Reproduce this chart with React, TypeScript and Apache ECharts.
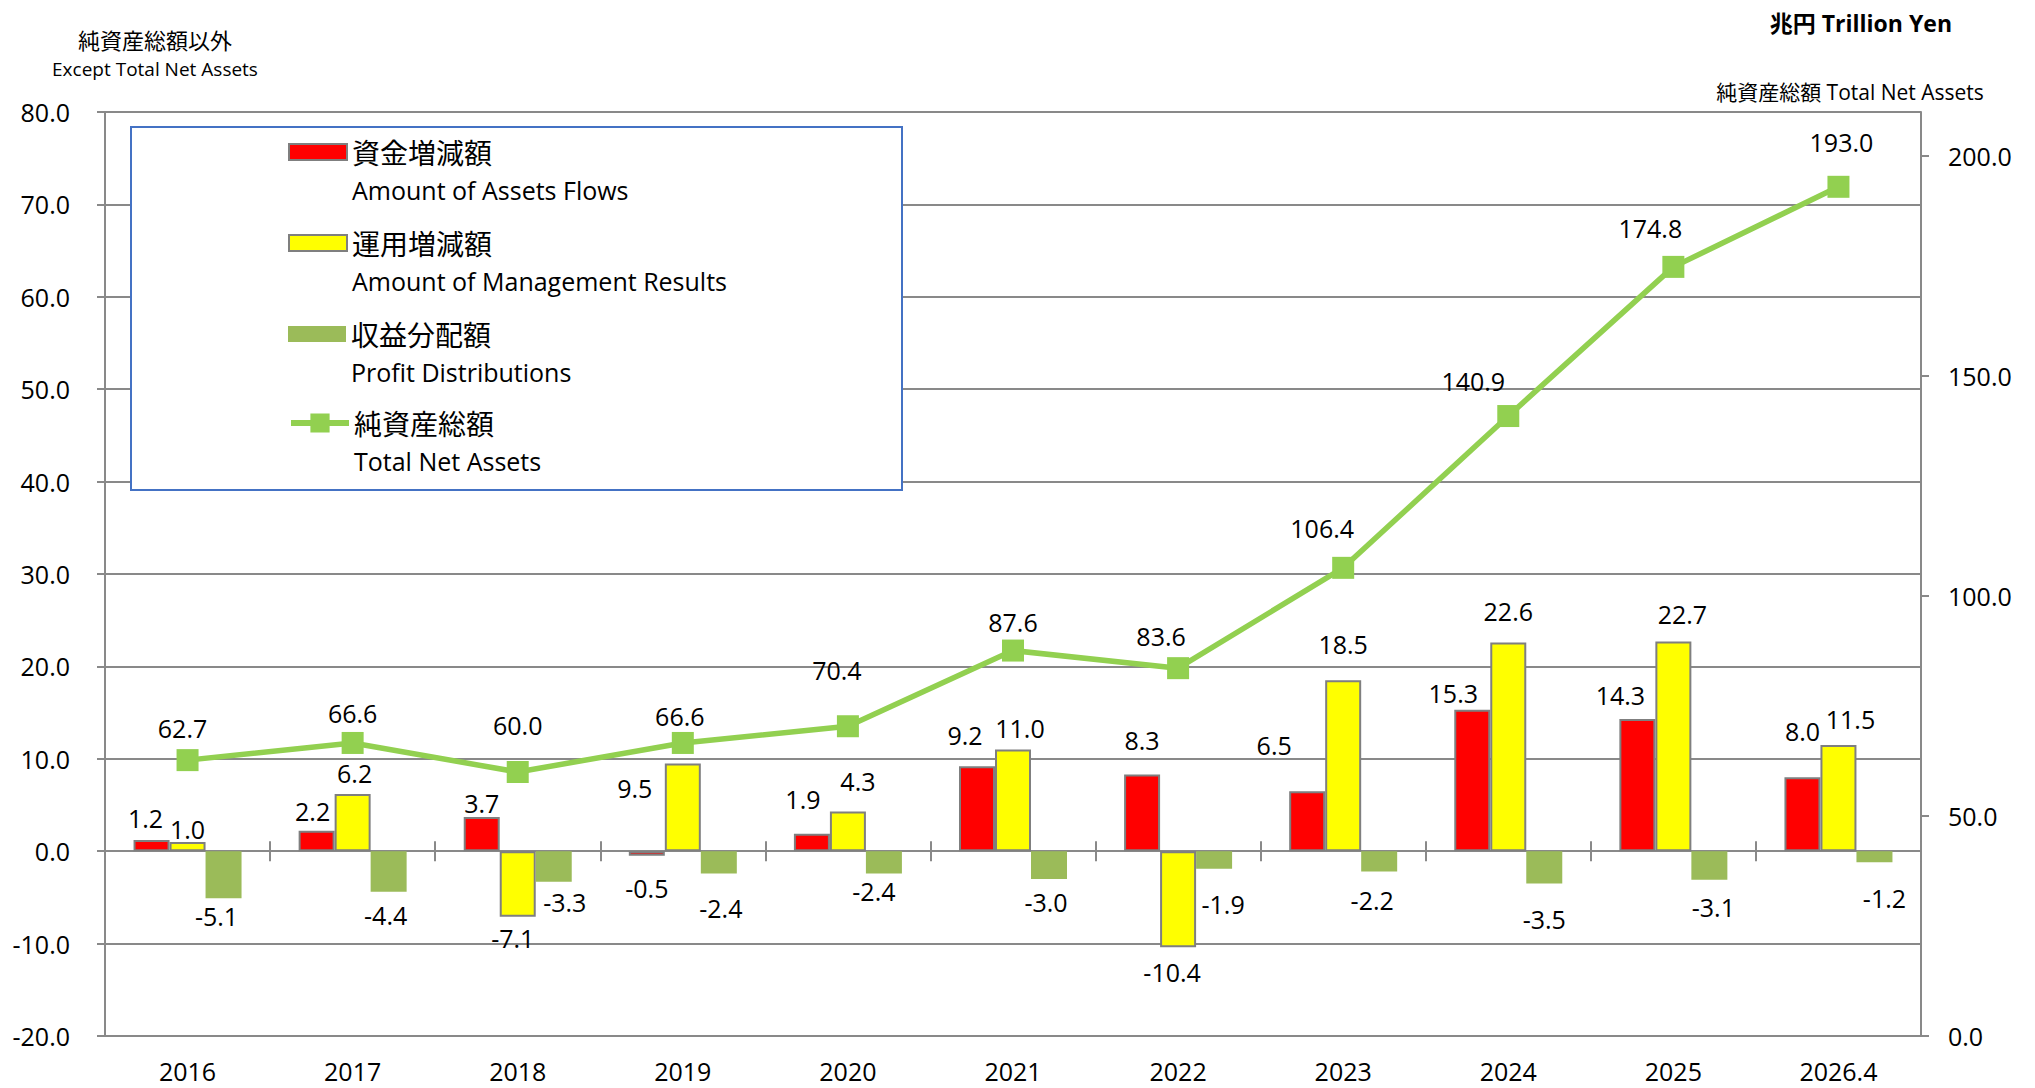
import React, { useEffect, useRef } from 'react';
import * as echarts from 'echarts';

// ---------------- data ----------------
const categories = ['2016', '2017', '2018', '2019', '2020', '2021', '2022', '2023', '2024', '2025', '2026.4'];
const assetFlows = [1.2, 2.2, 3.7, -0.5, 1.9, 9.2, 8.3, 6.5, 15.3, 14.3, 8.0];
const managementResults = [1.0, 6.2, -7.1, 9.5, 4.3, 11.0, -10.4, 18.5, 22.6, 22.7, 11.5];
const profitDistributions = [-5.1, -4.4, -3.3, -2.4, -2.4, -3.0, -1.9, -2.2, -3.5, -3.1, -1.2];
const totalNetAssets = [62.7, 66.6, 60.0, 66.6, 70.4, 87.6, 83.6, 106.4, 140.9, 174.8, 193.0];

const rightAxisTicks = [0, 50, 100, 150, 200];

const seriesNamesJa = ['資金増減額', '運用増減額', '収益分配額', '純資産総額'];
const seriesNamesEn = ['Amount of Assets Flows', 'Amount of Management Results', 'Profit Distributions', 'Total Net Assets'];

// label nudges (pixels) matching the hand-placed labels of the original
const flowLabelOffsets = [[-6, -5], [-4, -2], [0, 3], [0, 15], [-9, -17], [-12, -14], [0, -17], [-33, -29], [-19, 1], [-17, -7], [0, -29]];
const mgmtLabelOffsets = [[0, 5], [2, -3], [-5, 4], [-48, 42], [10, -13], [7, -4], [-6, 7], [0, -19], [0, -14], [9, -10], [12, -8]];
const distLabelOffsets = [[-7, 0], [-3, 6], [11, 3], [2, 17], [-10, 0], [-3, 6], [9, 18], [-7, 11], [0, 18], [4, 10], [10, 18]];
const netLabelOffsets = [[-5, -3], [0, 0], [0, -18], [-3, 3], [-11, -27], [0, 1], [-17, -3], [-21, -10], [-35, -6], [-23, -9], [3, -15]];

// ---------------- styles ----------------
const FONT = "'Open Sans', 'Noto Sans CJK JP', sans-serif";
const JP = "'Noto Sans CJK JP', 'Open Sans', sans-serif";
const GRAY = '#898989';
const BAR_BORDER = '#7f7f7f';

const withOffsets = (values: number[], offsets: number[][]) =>
  values.map((v, i) => ({ value: v, label: { offset: offsets[i] } }));

const fmt1 = (p: any) => Number(p.value).toFixed(1);

const barLabel = {
  show: true,
  position: 'outside',
  distance: 5,
  color: '#000',
  fontSize: 25,
  fontFamily: FONT,
  formatter: fmt1,
};

const legendTops = [138, 229, 320, 409];

function makeLegend(i: number) {
  const isLine = i === 3;
  return {
    show: true,
    data: [seriesNamesJa[i]],
    left: 288,
    top: legendTops[i],
    padding: 0,
    itemWidth: 58,
    itemHeight: isLine ? 24 : 16,
    icon: isLine ? undefined : 'rect',
    selectedMode: false,
    z: 5,
    lineStyle: { width: 6 },
    formatter: (name: string) => {
      const idx = seriesNamesJa.indexOf(name);
      return `{a|${name}}\n{b|${seriesNamesEn[idx]}}`;
    },
    textStyle: {
      padding: [38, 0, 0, 0],
      color: '#000',
      rich: {
        a: { fontSize: 28, lineHeight: 38, fontFamily: JP, color: '#000' },
        b: { fontSize: 25, lineHeight: 38, fontFamily: FONT, color: '#000' },
      },
    },
  };
}

export default function App() {
  const ref = useRef<HTMLDivElement>(null);

  useEffect(() => {
    if (!ref.current) return;
    const chart = echarts.init(ref.current, undefined, { renderer: 'svg' });

    const option: any = {
      animation: false,
      backgroundColor: '#fff',
      grid: { left: 105, right: 114, top: 112, bottom: 52, containLabel: false },
      legend: [0, 1, 2, 3].map(makeLegend),
      xAxis: [
        {
          type: 'category',
          data: categories,
          position: 'bottom',
          axisLine: { show: true, onZero: false, lineStyle: { color: GRAY, width: 2 } },
          axisTick: { show: false },
          axisLabel: { margin: 22, fontSize: 25, fontFamily: FONT, color: '#000' },
          splitLine: { show: false },
        },
        {
          type: 'category',
          data: categories,
          position: 'bottom',
          axisLine: { show: true, onZero: true, onZeroAxisIndex: 0, lineStyle: { color: GRAY, width: 2 } },
          axisTick: { show: true, length: 10, lineStyle: { color: GRAY, width: 2 } },
          axisLabel: { show: false },
          splitLine: { show: false },
        },
        {
          type: 'category',
          data: categories,
          position: 'top',
          axisLine: { show: true, onZero: true, onZeroAxisIndex: 0, lineStyle: { color: GRAY, width: 2 } },
          axisTick: { show: true, length: 10, lineStyle: { color: GRAY, width: 2 } },
          axisLabel: { show: false },
          splitLine: { show: false },
        },
      ],
      yAxis: [
        {
          type: 'value',
          position: 'left',
          min: -20,
          max: 80,
          interval: 10,
          axisLine: { show: true, lineStyle: { color: GRAY, width: 2 } },
          axisTick: { show: true, length: 8, lineStyle: { color: GRAY, width: 2 } },
          axisLabel: {
            margin: 35,
            fontSize: 25,
            fontFamily: FONT,
            color: '#000',
            formatter: (v: number) => v.toFixed(1),
          },
          splitLine: { show: true, lineStyle: { color: GRAY, width: 2 } },
        },
        {
          type: 'value',
          position: 'right',
          min: 0,
          max: 210,
          interval: 50,
          axisLine: { show: true, lineStyle: { color: GRAY, width: 2 } },
          axisTick: { show: true, length: 8, lineStyle: { color: GRAY, width: 2 }, customValues: rightAxisTicks },
          axisLabel: {
            margin: 27,
            fontSize: 25,
            fontFamily: FONT,
            color: '#000',
            customValues: rightAxisTicks,
            formatter: (v: number) => v.toFixed(1),
          },
          splitLine: { show: false },
        },
      ],
      series: [
        {
          name: seriesNamesJa[0],
          type: 'bar',
          xAxisIndex: 0,
          yAxisIndex: 0,
          barWidth: 36,
          barGap: '0%',
          itemStyle: { color: '#FF0000', borderColor: BAR_BORDER, borderWidth: 2 },
          label: barLabel,
          data: withOffsets(assetFlows, flowLabelOffsets),
          z: 2,
        },
        {
          name: seriesNamesJa[1],
          type: 'bar',
          xAxisIndex: 0,
          yAxisIndex: 0,
          barWidth: 36,
          barGap: '0%',
          itemStyle: { color: '#FFFF00', borderColor: BAR_BORDER, borderWidth: 2 },
          label: barLabel,
          data: withOffsets(managementResults, mgmtLabelOffsets),
          z: 2,
        },
        {
          name: seriesNamesJa[2],
          type: 'bar',
          xAxisIndex: 0,
          yAxisIndex: 0,
          barWidth: 36,
          barGap: '0%',
          itemStyle: { color: '#9BBB59', borderWidth: 0 },
          label: barLabel,
          data: withOffsets(profitDistributions, distLabelOffsets),
          z: 2,
        },
        {
          name: seriesNamesJa[3],
          type: 'line',
          xAxisIndex: 0,
          yAxisIndex: 1,
          symbol: 'rect',
          symbolSize: 22,
          lineStyle: { color: '#92D050', width: 5.5 },
          itemStyle: { color: '#92D050' },
          label: {
            show: true,
            position: 'top',
            distance: 6,
            color: '#000',
            fontSize: 25,
            fontFamily: FONT,
            formatter: fmt1,
          },
          data: withOffsets(totalNetAssets, netLabelOffsets),
          z: 3,
        },
      ],
      graphic: [
        {
          type: 'rect',
          z: 3,
          shape: { x: 131, y: 127, width: 771, height: 363 },
          style: { fill: '#fff', stroke: '#4472C4', lineWidth: 2 },
        },
        {
          type: 'text',
          x: 155,
          y: 39,
          z: 5,
          style: {
            text: '純資産総額以外',
            fontSize: 22,
            fontFamily: JP,
            fill: '#000',
            align: 'center',
            verticalAlign: 'middle',
            textAlign: 'center',
            textVerticalAlign: 'middle',
          },
        },
        {
          type: 'text',
          x: 155,
          y: 69,
          z: 5,
          style: {
            text: 'Except Total Net Assets',
            fontSize: 19,
            fontFamily: FONT,
            fill: '#000',
            align: 'center',
            verticalAlign: 'middle',
            textAlign: 'center',
            textVerticalAlign: 'middle',
          },
        },
        {
          type: 'text',
          x: 1952,
          y: 23,
          z: 5,
          style: {
            text: '兆円 Trillion Yen',
            fontSize: 23,
            fontWeight: 'bold',
            fontFamily: FONT,
            fill: '#000',
            align: 'right',
            verticalAlign: 'middle',
            textAlign: 'right',
            textVerticalAlign: 'middle',
          },
        },
        {
          type: 'text',
          x: 1850,
          y: 92,
          z: 5,
          style: {
            text: '純資産総額 Total Net Assets',
            fontSize: 21,
            fontFamily: FONT,
            fill: '#000',
            align: 'center',
            verticalAlign: 'middle',
            textAlign: 'center',
            textVerticalAlign: 'middle',
          },
        },
      ],
    };

    chart.setOption(option);
    return () => {
      chart.dispose();
    };
  }, []);

  return (
    <div
      ref={ref}
      style={{ position: 'fixed', left: 0, top: 0, width: 2035, height: 1088, background: '#fff' }}
    />
  );
}
